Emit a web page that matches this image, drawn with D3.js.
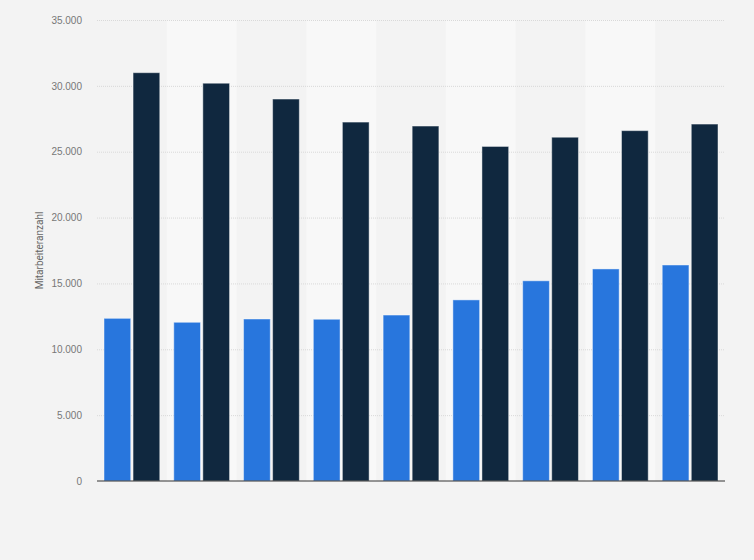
<!DOCTYPE html>
<html>
<head>
<meta charset="utf-8">
<script src="https://cdn.jsdelivr.net/npm/d3@7"></script>
<style>
  body { margin: 0; background: #f3f3f3; }
  svg { display: block; font-family: "Roboto", "Liberation Sans", sans-serif; }
  .grid line { stroke: #d9d9d9; stroke-dasharray: 1,1; }
  .tick text { fill: #777; font-size: 10px; }
</style>
</head>
<body>
<svg id="chart" width="754" height="560"></svg>
<script>
// Gruppen (keine Achsenbeschriftung im Original)
var groups = ["1", "2", "3", "4", "5", "6", "7", "8", "9"];
var series = ["blau", "dunkel"];
var valuesBlue = [12350, 12050, 12300, 12280, 12600, 13750, 15200, 16100, 16400];
var valuesDark = [31000, 30200, 29000, 27250, 26950, 25400, 26100, 26600, 27100];
var yTicks = [0, 5000, 10000, 15000, 20000, 25000, 30000, 35000];
var colors = ["#2876dd", "#10283f"];

var svg = d3.select("#chart");
var margin = {top: 20, right: 29, bottom: 79, left: 97};
var width = 754 - margin.left - margin.right,
    height = 560 - margin.top - margin.bottom;

var de = d3.formatLocale({decimal: ",", thousands: ".", grouping: [3], currency: ["", "€"]});
var fmt = de.format(",d");

var x0 = d3.scaleBand().domain(groups).range([0, width]).padding(0);
var x1 = d3.scaleBand().domain(series).range([7, x0.bandwidth() - 7]).paddingInner(0.08);
var y = d3.scaleLinear().domain([0, 35000]).range([height, 0]);

var g = svg.append("g").attr("transform", "translate(" + margin.left + "," + margin.top + ")");

// helle Streifen
g.append("g").selectAll("rect")
    .data(groups.filter(function(d, i) { return i % 2 === 1; }))
    .enter().append("rect")
      .attr("x", function(d) { return x0(d); })
      .attr("y", 0)
      .attr("width", x0.bandwidth())
      .attr("height", height)
      .attr("fill", "#f8f8f8");

// Gitternetz + y-Achse
g.append("g")
    .attr("class", "grid")
    .call(d3.axisLeft(y).tickValues(yTicks).tickSize(-width).tickFormat(fmt).tickPadding(15))
    .call(function(a) { a.select(".domain").remove(); })
    .call(function(a) { a.selectAll(".tick").filter(function(d) { return d === 0; }).select("line").remove(); });

var data = groups.map(function(gr, i) {
  return {group: gr, vals: [{s: "blau", v: valuesBlue[i]}, {s: "dunkel", v: valuesDark[i]}]};
});

g.append("g").selectAll("g")
    .data(data)
    .enter().append("g")
      .attr("transform", function(d) { return "translate(" + x0(d.group) + ",0)"; })
    .selectAll("rect")
    .data(function(d) { return d.vals; })
    .enter().append("rect")
      .attr("x", function(d) { return x1(d.s); })
      .attr("y", function(d) { return y(d.v); })
      .attr("width", x1.bandwidth())
      .attr("height", function(d) { return height - y(d.v); })
      .attr("fill", function(d, i) { return colors[i]; })
      .attr("stroke", "rgba(255,255,255,0.45)")
      .attr("stroke-width", 1);

// Nulllinie
g.append("line")
    .attr("x1", 0).attr("x2", width)
    .attr("y1", y(0)).attr("y2", y(0))
    .attr("stroke", "#333").attr("stroke-width", 1.2);

// y-Achsentitel
svg.append("text")
    .attr("transform", "translate(43," + (margin.top + height / 2) + ") rotate(-90)")
    .attr("text-anchor", "middle")
    .attr("fill", "#666")
    .attr("font-size", "10px")
    .text("Mitarbeiteranzahl");
</script>
</body>
</html>
